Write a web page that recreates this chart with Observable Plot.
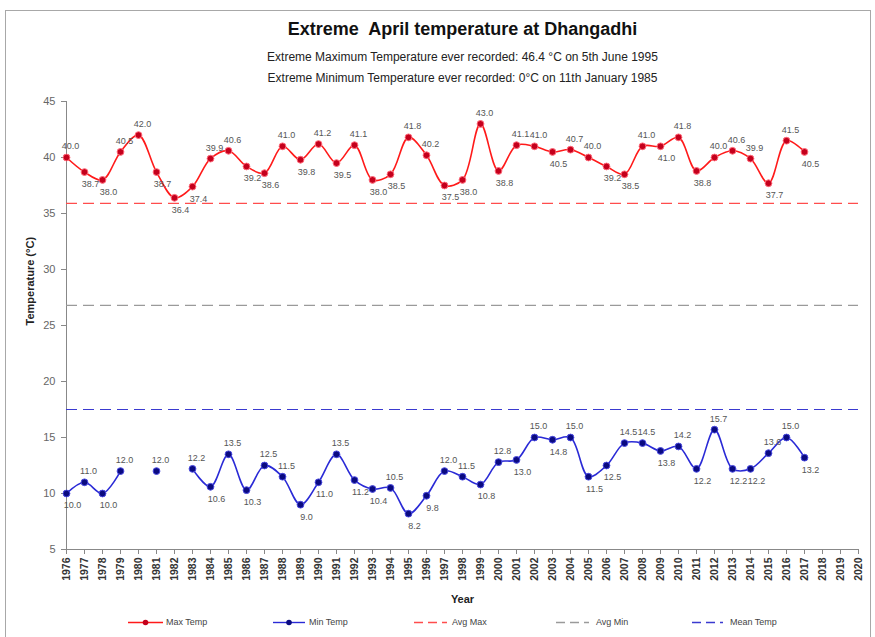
<!DOCTYPE html>
<html>
<head>
<meta charset="utf-8">
<script src="https://cdn.jsdelivr.net/npm/d3@7"></script>
<script src="https://cdn.jsdelivr.net/npm/@observablehq/plot@0.6"></script>
<style>
  body { margin: 0; background: #fff; font-family: Arial, "Liberation Sans", sans-serif; }
  #wrap { position: relative; width: 875px; height: 637px; overflow: hidden; background: #fff; }
  #frame { position: absolute; left: 5px; top: 10px; width: 866px; height: 660px; border: 1px solid #a8a8a8; box-sizing: border-box; }
  .hd { position: absolute; left: 0; width: 925px; text-align: center; color: #111; white-space: nowrap; }
  #title { top: 19px; font-size: 18px; font-weight: bold; white-space: pre; }
  #sub1 { top: 50px; font-size: 12px; color: #222; }
  #sub2 { top: 71px; font-size: 12px; color: #222; }
  #chart { position: absolute; left: 0; top: 90px; }
  .lg { position: absolute; top: 613px; height: 18px; }
  .lg svg { position: absolute; top: 0; left: 0; }
  .lg span { position: absolute; top: 4px; font-size: 9px; color: #444; white-space: nowrap; }
</style>
</head>
<body>
<div id="wrap">
  <div id="frame"></div>
  <div id="title" class="hd">Extreme  April temperature at Dhangadhi</div>
  <div id="sub1" class="hd">Extreme Maximum Temperature ever recorded: 46.4 °C on 5th June 1995</div>
  <div id="sub2" class="hd">Extreme Minimum Temperature ever recorded: 0°C on 11th January 1985</div>
  <div id="chart"></div>
  <div id="legend"></div>
</div>
<script>
// ---- data ----
const years = [1976, 1977, 1978, 1979, 1980, 1981, 1982, 1983, 1984, 1985, 1986, 1987, 1988, 1989,
  1990, 1991, 1992, 1993, 1994, 1995, 1996, 1997, 1998, 1999, 2000, 2001, 2002, 2003, 2004, 2005,
  2006, 2007, 2008, 2009, 2010, 2011, 2012, 2013, 2014, 2015, 2016, 2017];
const maxTemp = [40.0, 38.7, 38.0, 40.5, 42.0, 38.7, 36.4, 37.4, 39.9, 40.6, 39.2, 38.6, 41.0, 39.8,
  41.2, 39.5, 41.1, 38.0, 38.5, 41.8, 40.2, 37.5, 38.0, 43.0, 38.8, 41.1, 41.0, 40.5, 40.7, 40.0,
  39.2, 38.5, 41.0, 41.0, 41.8, 38.8, 40.0, 40.6, 39.9, 37.7, 41.5, 40.5];
const minTemp = [10.0, 11.0, 10.0, 12.0, null, 12.0, null, 12.2, 10.6, 13.5, 10.3, 12.5, 11.5, 9.0,
  11.0, 13.5, 11.2, 10.4, 10.5, 8.2, 9.8, 12.0, 11.5, 10.8, 12.8, 13.0, 15.0, 14.8, 15.0, 11.5,
  12.5, 14.5, 14.5, 13.8, 14.2, 12.2, 15.7, 12.2, 12.2, 13.6, 15.0, 13.2];
const avgMax = 35.9;
const avgMin = 26.8;
const meanTemp = 17.5;
const xTicks = [1976, 1977, 1978, 1979, 1980, 1981, 1982, 1983, 1984, 1985, 1986, 1987, 1988, 1989,
  1990, 1991, 1992, 1993, 1994, 1995, 1996, 1997, 1998, 1999, 2000, 2001, 2002, 2003, 2004, 2005,
  2006, 2007, 2008, 2009, 2010, 2011, 2012, 2013, 2014, 2015, 2016, 2017, 2018, 2019, 2020];
const yTicks = [5, 10, 15, 20, 25, 30, 35, 40, 45];
const seriesNames = ["Max Temp", "Min Temp", "Avg Max", "Avg Min", "Mean Temp"];

// ---- build tables ----
function table(vals) {
  return years.map((y, i) => {
    const v = vals[i];
    const prev = i > 0 ? vals[i - 1] : null;
    const next = i < vals.length - 1 ? vals[i + 1] : null;
    const nb = [prev, next].filter(d => d != null);
    const ref = nb.length ? d3.mean(nb) : v;
    return { year: y, value: v, up: v != null && v >= ref };
  });
}
const maxData = table(maxTemp);
const minData = table(minTemp);
const fmt = d => d.value.toFixed(1);

const RED = "#ff1a1a", BLUE = "#2a2ad6";

const chart = Plot.plot({
  width: 875,
  height: 530,
  marginTop: 11,
  marginBottom: 71,
  marginLeft: 66,
  marginRight: 17,
  style: { fontFamily: "Arial, 'Liberation Sans', sans-serif", background: "transparent", overflow: "visible" },
  x: { domain: [1976, 2020], axis: null },
  y: { domain: [5, 45], axis: null },
  marks: [
    Plot.axisX(xTicks, { tickRotate: -90, tickFormat: d => String(d), tickSize: 5, tickPadding: 3,
      fontSize: 10.5, fontWeight: "bold", fill: "#333", stroke: "#888", label: null }),
    Plot.axisY(yTicks, { tickSize: 5, tickPadding: 6, fontSize: 11, fill: "#666", stroke: "#888", label: null }),
    Plot.ruleX([1976], { stroke: "#888" }),
    Plot.ruleY([5], { stroke: "#888" }),
    Plot.ruleY([avgMax], { stroke: "#ff4d4d", strokeWidth: 1.2, strokeDasharray: "11,6" }),
    Plot.ruleY([avgMin], { stroke: "#9a9a9a", strokeWidth: 1.2, strokeDasharray: "11,6" }),
    Plot.ruleY([meanTemp], { stroke: "#3a3ad0", strokeWidth: 1.2, strokeDasharray: "11,6" }),
    Plot.line(maxData, { x: "year", y: "value", curve: "catmull-rom", stroke: RED, strokeWidth: 1.6 }),
    Plot.line(minData, { x: "year", y: "value", curve: "catmull-rom", stroke: BLUE, strokeWidth: 1.6 }),
    Plot.dot(maxData, { x: "year", y: "value", r: 3.4, fill: "#c4001c", stroke: "#ff6a7a", strokeWidth: 1 }),
    Plot.dot(minData.filter(d => d.value != null), { x: "year", y: "value", r: 3.4, fill: "#0a0a80", stroke: "#4a4ae0", strokeWidth: 1 }),
    Plot.text(maxData.filter(d => d.up), { x: "year", y: "value", text: fmt, dy: -11, dx: 4, fontSize: 9, fill: "#555" }),
    Plot.text(maxData.filter(d => !d.up), { x: "year", y: "value", text: fmt, dy: 12, dx: 6, fontSize: 9, fill: "#555" }),
    Plot.text(minData.filter(d => d.value != null && d.up), { x: "year", y: "value", text: fmt, dy: -11, dx: 4, fontSize: 9, fill: "#555" }),
    Plot.text(minData.filter(d => d.value != null && !d.up), { x: "year", y: "value", text: fmt, dy: 12, dx: 6, fontSize: 9, fill: "#555" }),
    Plot.text(["Year"], { text: d => d, frameAnchor: "bottom", dy: 53, fontSize: 11, fontWeight: "bold", fill: "#222" }),
    Plot.text(["Temperature (°C)"], { text: d => d, frameAnchor: "left", dx: -36, rotate: -90, fontSize: 11, fontWeight: "bold", fill: "#222" })
  ]
});
document.getElementById("chart").appendChild(chart);

// ---- legend ----
const legendSpec = [
  { name: seriesNames[0], x0: 128, x1: 163, tx: 166, color: RED, dash: null, dot: "#c4001c" },
  { name: seriesNames[1], x0: 273, x1: 305, tx: 309, color: BLUE, dash: null, dot: "#0a0a80" },
  { name: seriesNames[2], x0: 414, x1: 447, tx: 452, color: "#ff4d4d", dash: "9,5", dot: null },
  { name: seriesNames[3], x0: 556, x1: 589, tx: 596, color: "#9a9a9a", dash: "9,5", dot: null },
  { name: seriesNames[4], x0: 692, x1: 723, tx: 730, color: "#3a3ad0", dash: "9,5", dot: null }
];
const lg = document.getElementById("legend");
legendSpec.forEach(s => {
  const item = document.createElement("div");
  item.className = "lg";
  item.style.left = s.x0 + "px";
  const w = s.x1 - s.x0;
  let svg = `<svg width="${w}" height="18"><line x1="0" x2="${w}" y1="9.5" y2="9.5" stroke="${s.color}" stroke-width="1.4"${s.dash ? ` stroke-dasharray="${s.dash}"` : ""}/>`;
  if (s.dot) svg += `<circle cx="${w / 2}" cy="9.5" r="2.8" fill="${s.dot}"/>`;
  svg += `</svg>`;
  item.innerHTML = svg + `<span style="left:${s.tx - s.x0}px">${s.name}</span>`;
  lg.appendChild(item);
});
</script>
</body>
</html>
